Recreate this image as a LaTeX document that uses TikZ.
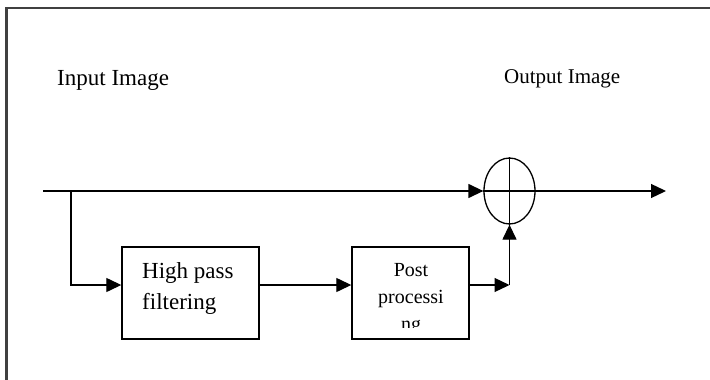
\documentclass[tikz,border=0pt]{standalone}
\usepackage{fontspec}
\setmainfont{Liberation Serif}
\usetikzlibrary{arrows.meta,shapes.geometric}
\begin{document}
\begin{tikzpicture}[x=1pt,y=-1pt,
  ln/.style={line width=1.3pt},
  arr/.style={ln,-{Triangle[length=15pt,width=14pt]}},
  blk/.style={draw,line width=1.4pt,rectangle,inner sep=0pt},
  lbl/.style={anchor=base west,inner sep=0pt}]
\useasboundingbox (0,0) rectangle (710,380);
\fill[white] (0,0) rectangle (710,380);
% outer frame (extends beyond the picture)
\draw[line width=2.2pt,black!75] (715,8) -- (6.5,8) -- (6.5,385);
% labels
\node[lbl,font=\fontsize{23}{28}\selectfont] (inlbl) at (57,85) {Input Image};
\node[lbl,font=\fontsize{21}{26}\selectfont] (outlbl) at (504,83) {Output Image};
% blocks
\node[blk,minimum width=137pt,minimum height=92pt] (hpf) at (190.5,293) {};
\node[blk,minimum width=117pt,minimum height=92pt] (pp) at (410.5,293) {};
\node[lbl,font=\fontsize{23}{28}\selectfont] (t1) at (142,278) {High pass};
\node[lbl,font=\fontsize{23}{28}\selectfont] (t2) at (142,309) {filtering};
\node[anchor=base,inner sep=0pt,font=\fontsize{20}{24}\selectfont] (t3) at (411,276) {Post};
\node[anchor=base,inner sep=0pt,font=\fontsize{20}{24}\selectfont] (t4) at (411,303) {processi};
\begin{scope}
\clip (352,247) rectangle (469,327.5);
\node[anchor=base,inner sep=0pt,font=\fontsize{20}{24}\selectfont] (t5) at (411,330) {ng};
\end{scope}
% summing junction
\node[draw,ln,ellipse,minimum width=51pt,minimum height=66pt,inner sep=0pt] (sum) at (509.5,191) {};
\draw[ln] (sum.north) -- (sum.south);
\draw[ln] (sum.west) -- (sum.east);
% connectors
\coordinate (in) at (43,191);
\coordinate (br) at (71,191);
\coordinate (jn) at (509.5,285);
\coordinate (out) at (666,191);
\draw[arr] (in) -- (sum.west);
\draw[arr] (br) |- ([yshift=8pt]hpf.west);
\draw[arr] ([yshift=8pt]hpf.east) -- ([yshift=8pt]pp.west);
\draw[arr] ([yshift=8pt]pp.east) -- (jn);
\draw[arr] (jn) -- (sum.south);
\draw[arr] (sum.east) -- (out);
\end{tikzpicture}
\end{document}
